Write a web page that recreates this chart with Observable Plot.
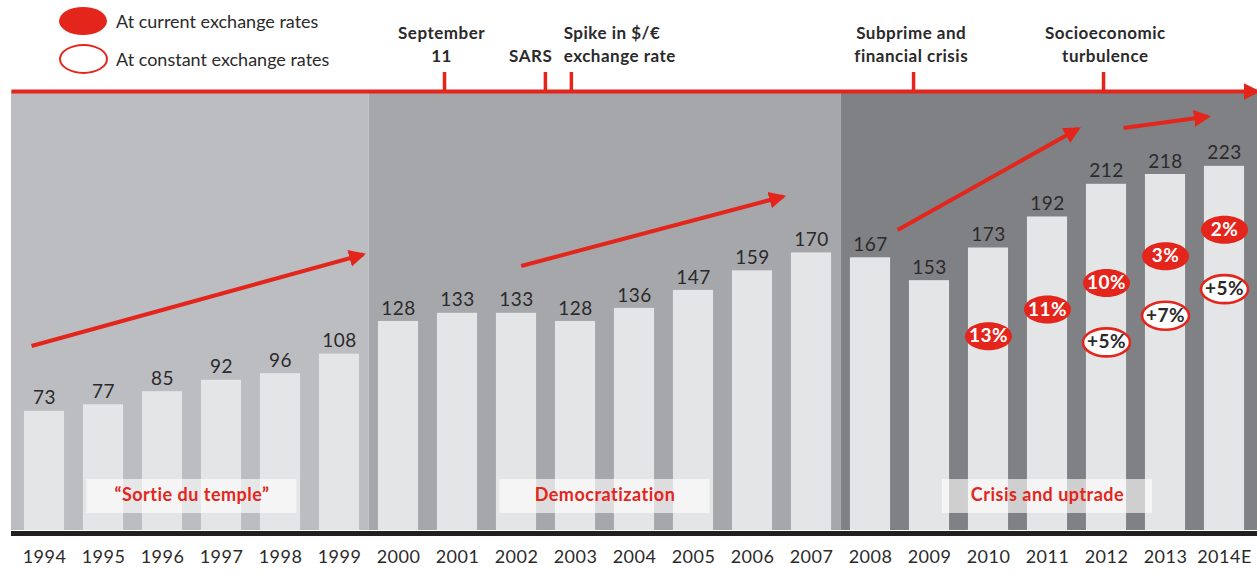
<!DOCTYPE html>
<html>
<head>
<meta charset="utf-8">
<script src="https://cdn.jsdelivr.net/npm/d3@7"></script>
<script src="https://cdn.jsdelivr.net/npm/@observablehq/plot@0.6"></script>
<style>
  html, body { margin: 0; padding: 0; background: #fff; }
  #wrap { position: relative; width: 1257px; height: 573px; overflow: hidden; font-family: Lato, "Noto Sans", sans-serif; }
  .lg-sw { position: absolute; border-radius: 50%; box-sizing: border-box; }
  .lg-tx { position: absolute; font-size: 18px; color: #2b2a2b; line-height: 20px; white-space: nowrap; }
  svg text { letter-spacing: 0.5px; }
</style>
</head>
<body>
<div id="wrap"></div>
<script>
// ---------------- data ----------------
const years = ["1994","1995","1996","1997","1998","1999","2000","2001","2002","2003","2004","2005","2006","2007","2008","2009","2010","2011","2012","2013","2014E"];
const sales = [73,77,85,92,96,108,128,133,133,128,136,147,159,170,167,153,173,192,212,218,223];

const currentGrowthYears = ["2010","2011","2012","2013","2014E"];
const currentGrowth = ["13%","11%","10%","3%","2%"];
const constantGrowthYears = ["2012","2013","2014E"];
const constantGrowth = ["+5%","+7%","+5%"];

const periodNames = ["\u201CSortie du temple\u201D","Democratization","Crisis and uptrade"];
const periodStart = ["1994","2000","2008"];
const periodEnd = ["1999","2007","2014E"];

const eventLabels = ["September\n11","SARS","Spike in $/\u20AC\nexchange rate","Subprime and\nfinancial crisis","Socioeconomic\nturbulence"];
const eventWhen = [6.78, 8.49, 8.93, 14.73, 17.95]; // position on the year axis (year index)

const legendLabels = ["At current exchange rates","At constant exchange rates"];

// trend arrows: [from year index, from level, to year index, to level]
const trendArrows = [
  [-0.22, 113, 5.40, 169],
  [8.08, 162, 12.52, 204.5],
  [14.46, 184, 17.52, 246],
  [18.29, 246.5, 19.72, 253.5]
];

// ---------------- layout / style ----------------
const RED = "#e4251c";
const DARK = "#2b2a2b";
const BG = ["#bcbdc1", "#a6a7ab", "#808185"];
const BAR = "#e4e5e7";
const K = 1.633;             // px per unit
const X0 = -44 / 59, X1 = (1257 - 44) / 59;
const EDGE = (11 - 44) / 59;
const YTOP = 530 / K;
const TL = (530 - 91) / K;   // timeline level
const idx = y => years.indexOf(y);

const bars = years.map((y, i) => ({i, year: y, value: sales[i]}));
const periods = periodNames.map((n, k) => ({
  name: n, s: idx(periodStart[k]), e: idx(periodEnd[k]), k
}));
const events = eventLabels.map((l, k) => ({label: l, when: eventWhen[k], k}));
const labelShift = [-0.05, -0.25, -0.13, -0.04, 0.03];
const labelAnchor = ["middle", "middle", "start", "middle", "middle"];

const cur = currentGrowthYears.map((y, k) => ({i: idx(y), label: currentGrowth[k], lvl: (530 - 335.7) / K + 16.3 * k}));
const cst = constantGrowthYears.map((y, k) => {
  const c = cur.find(d => d.i === idx(y));
  return {i: idx(y), label: constantGrowth[k], lvl: c.lvl - 36.4};
});

function ellipse(a, b) {
  const k = 0.5523;
  return {
    draw(ctx) {
      ctx.moveTo(a, 0);
      ctx.bezierCurveTo(a, k * b, k * a, b, 0, b);
      ctx.bezierCurveTo(-k * a, b, -a, k * b, -a, 0);
      ctx.bezierCurveTo(-a, -k * b, -k * a, -b, 0, -b);
      ctx.bezierCurveTo(k * a, -b, a, -k * b, a, 0);
      ctx.closePath();
    }
  };
}

const FONT = "Lato, 'Noto Sans', sans-serif";

const arrowsData = trendArrows.map(a => ({x1: a[0], y1: a[1], x2: a[2], y2: a[3]}));

const chart = Plot.plot({
  width: 1257,
  height: 573,
  marginTop: 0, marginBottom: 43, marginLeft: 0, marginRight: 0,
  style: {fontFamily: FONT, background: "transparent", overflow: "visible"},
  x: {type: "linear", domain: [X0, X1], axis: null},
  y: {domain: [0, YTOP], axis: null},
  marks: [
    // period backgrounds
    Plot.rect(periods, {
      x1: d => d.k === 0 ? EDGE : d.s - 0.5,
      x2: d => d.k === periods.length - 1 ? X1 : d.e + 0.5,
      y1: 0, y2: TL, fill: d => BG[d.k]
    }),
    // bars
    Plot.rect(bars, {x1: d => d.i - 0.34, x2: d => d.i + 0.34, y1: 0, y2: "value", fill: BAR}),
    // value labels
    Plot.text(bars, {x: "i", y: "value", text: d => String(d.value), dy: -13, fontSize: 19, fill: DARK, fontWeight: 400}),
    // period label boxes
    Plot.rect(periods, {
      x1: d => (d.s + d.e) / 2 - 1.78, x2: d => (d.s + d.e) / 2 + 1.78,
      y1: (530 - 513) / K, y2: (530 - 479) / K, fill: "#ffffff", fillOpacity: 0.62
    }),
    Plot.text(periods, {x: d => (d.s + d.e) / 2, y: (530 - 495) / K, text: "name", fill: RED, fontSize: 18, fontWeight: 700}),
    // baseline
    Plot.ruleY([0], {x1: EDGE, x2: X1, stroke: "#231f20", strokeWidth: 5, dy: 3}),
    // year labels
    Plot.text(bars, {x: "i", y: 0, text: "year", dy: 27, fontSize: 18, fill: DARK, fontWeight: 400}),
    // timeline
    Plot.link([{x1: EDGE, x2: X1}], {x1: "x1", x2: "x2", y1: TL, y2: TL, stroke: RED, strokeWidth: 4}),
    Plot.ruleX(events, {x: "when", y1: TL, y2: (530 - 72) / K, stroke: RED, strokeWidth: 3.5}),
    ...[0, 1, 2, 3, 4].map(k => Plot.text([events[k]], {
      x: d => d.when + labelShift[k], y: (530 - 61) / K, text: "label",
      textAnchor: labelAnchor[k], lineAnchor: "bottom", lineHeight: 1.35,
      fontSize: 17, fontWeight: 700, fill: DARK
    })),
    // trend arrows
    Plot.link(arrowsData, {x1: "x1", y1: "y1", x2: "x2", y2: "y2", stroke: RED, strokeWidth: 4}),
    // growth badges
    Plot.dot(cur, {x: "i", y: "lvl", symbol: ellipse(23.5, 14), fill: RED}),
    Plot.text(cur, {x: "i", y: "lvl", text: "label", fill: "#fff", fontSize: 19, fontWeight: 700}),
    Plot.dot(cst, {x: "i", y: "lvl", symbol: ellipse(23.5, 14), fill: "#fff", stroke: RED, strokeWidth: 2.6}),
    Plot.text(cst, {x: "i", y: "lvl", text: "label", fill: DARK, fontSize: 19, fontWeight: 700})
  ]
});

// arrowheads on links
const svg = d3.select(chart);
const defs = svg.insert("defs", ":first-child");
defs.append("marker")
  .attr("id", "ah").attr("viewBox", "0 -9 17 18")
  .attr("refX", 14).attr("refY", 0)
  .attr("markerWidth", 17).attr("markerHeight", 18)
  .attr("markerUnits", "userSpaceOnUse").attr("orient", "auto")
  .append("path").attr("d", "M0,-8.5L17,0L0,8.5Z").attr("fill", RED);
svg.selectAll('g[aria-label="link"] path').attr("marker-end", "url(#ah)");

const wrap = document.getElementById("wrap");
wrap.appendChild(chart);
chart.style.position = "absolute";
chart.style.left = "0px";
chart.style.top = "0px";

// legend
const sw1 = document.createElement("div");
sw1.className = "lg-sw";
Object.assign(sw1.style, {left: "59px", top: "7px", width: "48px", height: "28px", background: RED});
const sw2 = document.createElement("div");
sw2.className = "lg-sw";
Object.assign(sw2.style, {left: "59px", top: "44px", width: "49px", height: "30px", background: "#fff", border: "2.5px solid " + RED});
wrap.appendChild(sw1); wrap.appendChild(sw2);
legendLabels.forEach((t, k) => {
  const d = document.createElement("div");
  d.className = "lg-tx";
  d.textContent = t;
  d.style.left = "116px";
  d.style.top = (k === 0 ? 11 : 49) + "px";
  wrap.appendChild(d);
});
</script>
</body>
</html>
